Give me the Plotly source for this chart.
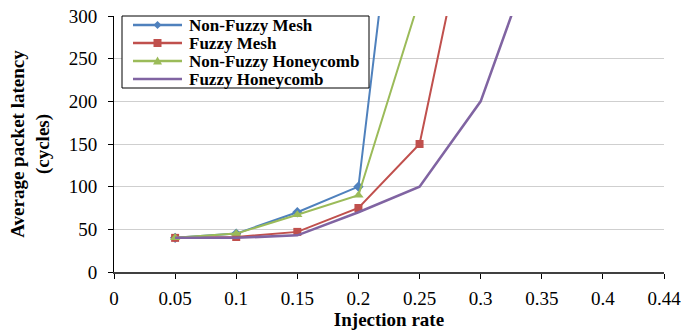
import plotly.graph_objects as go

categories = ["0", "0.05", "0.1", "0.15", "0.2", "0.25", "0.3", "0.35", "0.4", "0.44"]

series_names = ["Non-Fuzzy Mesh", "Fuzzy Mesh", "Non-Fuzzy Honeycomb", "Fuzzy Honeycomb"]

nf_mesh_x = ["0.05", "0.1", "0.15", "0.2", "0.25"]
nf_mesh_y = [40, 45, 70, 100, 700]

f_mesh_x = ["0.05", "0.1", "0.15", "0.2", "0.25", "0.3"]
f_mesh_y = [40, 41, 47, 75, 150, 490]

nf_honey_x = ["0.05", "0.1", "0.15", "0.2", "0.25"]
nf_honey_y = [40, 45, 67, 90, 320]

f_honey_x = ["0.05", "0.1", "0.15", "0.2", "0.25", "0.3", "0.35"]
f_honey_y = [40, 40, 43, 70, 100, 200, 400]

y_ticks = [0, 50, 100, 150, 200, 250, 300]

colors = ["#4F81BD", "#C0504D", "#9BBB59", "#8064A2"]
FONT = "Liberation Serif, Times New Roman, serif"

W, H = 681, 332
ML, MR, MT, MB = 114, 17, 16, 60
PW, PH = W - ML - MR, H - MT - MB


def px(x):  # pixel x -> paper
    return (x - ML) / PW


def py(y):  # pixel y -> paper
    return (H - MB - y) / PH


fig = go.Figure()
fig.add_trace(go.Scatter(x=nf_mesh_x, y=nf_mesh_y, name=series_names[0], mode="lines+markers",
                         line=dict(color=colors[0], width=2),
                         marker=dict(symbol="diamond", size=8, color=colors[0])))
fig.add_trace(go.Scatter(x=f_mesh_x, y=f_mesh_y, name=series_names[1], mode="lines+markers",
                         line=dict(color=colors[1], width=2),
                         marker=dict(symbol="square", size=8, color=colors[1])))
fig.add_trace(go.Scatter(x=nf_honey_x, y=nf_honey_y, name=series_names[2], mode="lines+markers",
                         line=dict(color=colors[2], width=2),
                         marker=dict(symbol="triangle-up", size=9, color=colors[2])))
fig.add_trace(go.Scatter(x=f_honey_x, y=f_honey_y, name=series_names[3], mode="lines",
                         line=dict(color=colors[3], width=2.5)))

# compact legend box drawn with shapes + annotation texts
shapes = []
annotations = []
bx0, bx1, by0, by1 = 122, 369, 16, 88
shapes.append(dict(type="rect", xref="paper", yref="paper",
                   x0=px(bx0), x1=px(bx1), y0=py(by1), y1=py(by0),
                   line=dict(color="black", width=1), fillcolor="white", layer="above"))
rows = [25, 43, 61, 79]
lx0, lx1, tx = 133, 182, 187
for i, (name, col, ry) in enumerate(zip(series_names, colors, rows)):
    shapes.append(dict(type="line", xref="paper", yref="paper",
                       x0=px(lx0), x1=px(lx1), y0=py(ry), y1=py(ry),
                       line=dict(color=col, width=2.5), layer="above"))
    cx = (lx0 + lx1) / 2
    if i == 0:
        d = 4
        path = (f"M {px(cx)} {py(ry - d)} L {px(cx + d)} {py(ry)} L {px(cx)} {py(ry + d)} "
                f"L {px(cx - d)} {py(ry)} Z")
        shapes.append(dict(type="path", xref="paper", yref="paper", path=path,
                           fillcolor=col, line=dict(color=col, width=0), layer="above"))
    elif i == 1:
        d = 4
        shapes.append(dict(type="rect", xref="paper", yref="paper",
                           x0=px(cx - d), x1=px(cx + d), y0=py(ry + d), y1=py(ry - d),
                           fillcolor=col, line=dict(color=col, width=0), layer="above"))
    elif i == 2:
        d = 4.5
        path = (f"M {px(cx)} {py(ry - d)} L {px(cx + d)} {py(ry + d * 0.8)} "
                f"L {px(cx - d)} {py(ry + d * 0.8)} Z")
        shapes.append(dict(type="path", xref="paper", yref="paper", path=path,
                           fillcolor=col, line=dict(color=col, width=0), layer="above"))
    annotations.append(dict(text=f"<b>{name}</b>", xref="paper", yref="paper",
                            x=px(tx), y=py(ry), xanchor="left", yanchor="middle",
                            showarrow=False, font=dict(family=FONT, size=17, color="black")))

fig.update_layout(
    width=W, height=H,
    margin=dict(l=ML, r=MR, t=MT, b=MB),
    plot_bgcolor="white", paper_bgcolor="white",
    font=dict(family=FONT, size=19, color="black"),
    showlegend=False,
    shapes=shapes, annotations=annotations,
    xaxis=dict(type="category", categoryorder="array", categoryarray=categories,
               tickvals=categories, range=[0, len(categories) - 1],
               showline=True, linecolor="#404040", linewidth=1.5,
               ticks="outside", ticklen=5, tickcolor="black", ticklabelstandoff=3,
               ticklabeloverflow="allow",
               showgrid=False, zeroline=False, automargin=False,
               tickfont=dict(family=FONT, size=19),
               title=dict(text="<b>Injection rate</b>", font=dict(family=FONT, size=19), standoff=4)),
    yaxis=dict(range=[0, 300], tickvals=y_ticks,
               showline=True, linecolor="black", linewidth=1,
               ticks="outside", ticklen=5, tickcolor="black", ticklabelstandoff=7,
               ticklabeloverflow="allow",
               showgrid=True, gridcolor="#CFCFCF", gridwidth=1, zeroline=False, automargin=False,
               tickfont=dict(family=FONT, size=19),
               title=dict(text="<b>Average packet latency<br>(cycles)</b>",
                          font=dict(family=FONT, size=19), standoff=14)),
)

fig.write_html("out.html", config={"displayModeBar": False},
               post_script="document.body.style.margin='0px';")
